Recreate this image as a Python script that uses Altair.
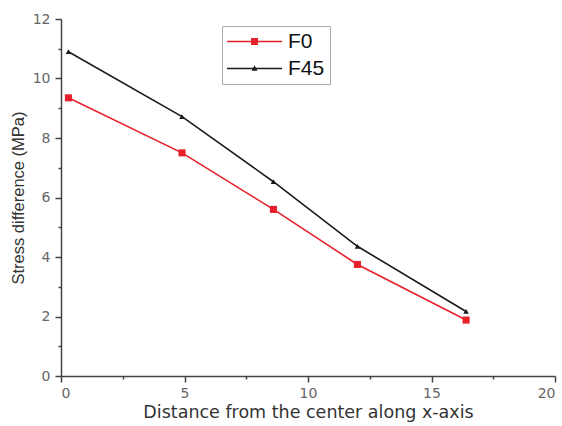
import altair as alt
import pandas as pd

series_names = ["F0", "F45"]
x_vals = [0.3, 4.9, 8.6, 12.0, 16.4]
f0_vals = [9.35, 7.5, 5.6, 3.75, 1.88]
f45_vals = [10.9, 8.72, 6.53, 4.36, 2.17]
colors = ["#e8202c", "#1a1a1a"]

rows = []
for name, vals in zip(series_names, [f0_vals, f45_vals]):
    for xv, yv in zip(x_vals, vals):
        rows.append({"x": xv, "y": yv, "series": name})
df = pd.DataFrame(rows)

FONT = "Liberation Sans"
WFONT = "DejaVu Sans"
xscale = alt.Scale(domain=[0, 20], nice=False, zero=False)
yscale = alt.Scale(domain=[0, 12], nice=False)

def cscale():
    return alt.Scale(domain=series_names, range=colors)

major_x = alt.Axis(values=[0, 5, 10, 15, 20], grid=False, tickSize=6, tickColor="#444",
                   domainColor="#444", domainWidth=1.5, tickWidth=1.5, labelColor="#666",
                   labelFontSize=14, labelFont=WFONT, labelPadding=4,
                   title="Distance from the center along x-axis", titleFont=WFONT,
                   titleFontSize=17.5, titleFontWeight="normal", titleColor="#333",
                   titlePadding=3, orient="bottom")
major_y = alt.Axis(values=[0, 2, 4, 6, 8, 10, 12], grid=False, tickSize=6, tickColor="#444",
                   domainColor="#444", domainWidth=1.5, tickWidth=1.5, labelColor="#666",
                   labelFontSize=14, labelFont=WFONT, labelPadding=5,
                   title="Stress difference (MPa)", titleFont=FONT, titleFontSize=16.5,
                   titleFontWeight="normal", titleColor="#333", titlePadding=6, orient="left")
minor_x = alt.Axis(values=[2.5, 7.5, 12.5, 17.5], labels=False, grid=False, domain=False,
                   tickSize=3, tickColor="#444", tickWidth=1.5, title=None, orient="bottom")
minor_y = alt.Axis(values=[1, 3, 5, 7, 9, 11], labels=False, grid=False, domain=False,
                   tickSize=3, tickColor="#444", tickWidth=1.5, title=None, orient="left")

lines = alt.Chart(df).mark_line(strokeWidth=1.6).encode(
    x=alt.X("x:Q", scale=xscale, axis=major_x),
    y=alt.Y("y:Q", scale=yscale, axis=major_y),
    color=alt.Color("series:N", scale=cscale(), legend=None),
    detail="series:N",
)

points = alt.Chart(df).mark_point(filled=True, opacity=1).encode(
    x=alt.X("x:Q", scale=xscale, axis=None),
    y=alt.Y("y:Q", scale=yscale, axis=None),
    color=alt.Color("series:N", scale=cscale(), legend=None),
    shape=alt.Shape("series:N", scale=alt.Scale(domain=series_names, range=["square", "triangle-up"]), legend=None),
    size=alt.Size("series:N", scale=alt.Scale(domain=series_names, range=[50, 30]), legend=None),
)

minor = alt.Chart(df).mark_point(opacity=0).encode(
    x=alt.X("x:Q", scale=xscale, axis=minor_x),
    y=alt.Y("y:Q", scale=yscale, axis=minor_y),
)

# legend symbols: a line with a marker, symbol size 441 -> unit = 10.5 px
sq_path = "M-1,-0.075H4.24V0.075H-1Z M1.29,-0.33H1.95V0.33H1.29Z"
tri_path = "M-1,-0.065H4.24V0.065H-1Z M1.62,-0.3L1.9,0.22H1.34Z"

leg = dict(title=None, orient="none", legendX=161, legendY=7,
           labelFont=FONT, labelFontSize=21, labelColor="#111", labelOffset=40,
           strokeColor="#aaa", fillColor="white", padding=5, rowPadding=5,
           symbolSize=441, symbolStrokeWidth=0, symbolOpacity=1)

ghost = alt.Chart(df).transform_filter("false").mark_point(filled=True, opacity=1).encode(
    color=alt.Color("series:N", scale=cscale(), legend=alt.Legend(**leg)),
    shape=alt.Shape("series:N", scale=alt.Scale(domain=series_names, range=[sq_path, tri_path]),
                    legend=alt.Legend(**leg)),
)

chart = alt.layer(lines, points, minor, ghost).resolve_axis(
    x="independent", y="independent"
).resolve_scale(shape="independent", size="independent", color="independent").properties(
    width=494, height=357,
    padding={"left": 61, "top": 19, "right": 7, "bottom": 50},
    autosize=alt.AutoSizeParams(type="none"),
    background="white",
).configure_view(stroke=None)

chart.save("out.html", embed_options={"renderer": "svg", "actions": False})
